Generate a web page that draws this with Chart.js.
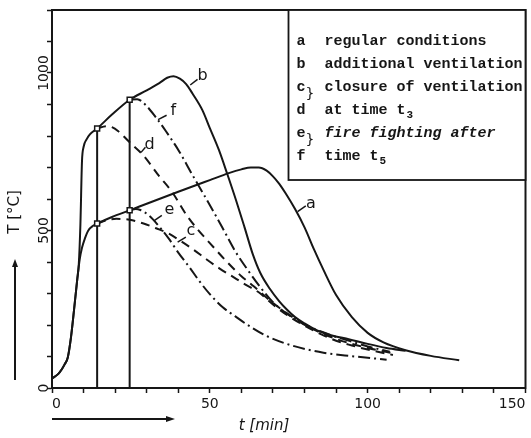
<!DOCTYPE html>
<html lang="en">
<head>
    <meta charset="UTF-8">
    <title>Fire temperature curves</title>
    <style>
        html, body { margin: 0; padding: 0; background: #fff; }
        #wrap { width: 531px; height: 438px; }
    </style>
</head>
<body>
    <div id="wrap"><canvas id="chart" width="531" height="438"></canvas></div>
    <script src="https://cdn.jsdelivr.net/npm/chart.js@4.4.1/dist/chart.umd.min.js"></script>
    <script>
        // t [min] and T [°C]
        const tA = [0, 2, 3, 4, 5, 6, 7, 8, 8.8, 9.5, 10.4, 11.5, 13, 14.3, 19, 24.6, 30, 40, 50, 56, 60, 63, 65.5, 68, 70, 72, 74, 77, 80, 83, 86, 90, 95, 100, 105, 112, 120, 129];
        const TA = [30, 45, 58, 75, 97, 160, 250, 345, 410, 445, 474, 500, 515, 522, 543, 564, 585, 623, 660, 682, 694, 700, 700, 690, 672, 648, 618, 568, 510, 440, 375, 295, 225, 175, 145, 120, 102, 88];

        const tB = [0, 2, 3, 4, 5, 6, 7, 8, 8.5, 9, 9.5, 10, 11, 12, 14.3, 19, 24.6, 30, 34, 36.5, 38.5, 40.5, 42.5, 44.5, 47.6, 50, 52.9, 55.5, 58.3, 61, 63.6, 66, 69, 72, 74.3, 77, 80, 84, 89, 94, 100, 106, 112];
        const TB = [30, 45, 58, 75, 97, 160, 250, 345, 395, 520, 720, 765, 790, 805, 824, 868, 915, 945, 968, 985, 990, 982, 965, 935, 883, 825, 755, 680, 596, 510, 425, 365, 315, 275, 250, 225, 205, 183, 166, 155, 140, 127, 118];

        const tC = [14.3, 17, 20.4, 24.6, 29, 33, 37, 41, 45, 49, 53, 57, 61, 65.6, 70, 75, 80, 85, 90, 95, 100, 108];
        const TC = [522, 532, 537, 534, 522, 507, 490, 465, 438, 408, 380, 355, 330, 303, 265, 228, 198, 172, 150, 135, 122, 105];

        const tD = [14.3, 17.2, 19, 21, 24.6, 28.8, 34, 38.2, 42.4, 46, 50, 55, 60, 64, 69, 74, 79, 85, 90, 95, 100, 108];
        const TD = [824, 831, 828, 815, 780, 740, 672, 620, 552, 505, 460, 405, 355, 322, 278, 240, 207, 176, 156, 140, 127, 110];

        const tE = [24.6, 26.5, 28, 31, 34, 37, 40, 43.5, 47, 50, 54, 58, 62, 68, 76, 86, 95, 106];
        const TE = [564, 568, 565, 545, 512, 474, 430, 384, 335, 298, 257, 228, 200, 165, 135, 112, 101, 90];

        const tF = [24.6, 27, 29.5, 33, 36.1, 40.3, 44.5, 48.2, 52, 55, 58, 62, 66, 70, 75, 80, 85, 90, 95, 100, 107];
        const TF = [915, 917, 900, 858, 815, 751, 676, 612, 545, 490, 435, 375, 320, 272, 232, 202, 180, 162, 147, 132, 115];

        // t3 and t5 and the points where the curves branch off
        const branchTimes = [14.3, 24.6];
        const branchTops = [824, 915];
        const markerT = [14.3, 14.3, 24.6, 24.6];
        const markerTemp = [522, 824, 564, 915];

        // curve letters: text position and short leader line (t, T)
        const curveNames = ['a', 'b', 'c', 'd', 'e', 'f'];
        const curveNameAt = [[82, 586], [47.7, 991], [44, 500], [30.9, 772], [37.2, 564], [38.4, 880]];
        const leaderFrom = [[77.8, 560], [43.8, 962], [39.8, 463], [28.2, 748], [32.5, 532], [33.6, 852]];
        const leaderTo = [[80.4, 578], [46.1, 980], [42.4, 479], [29.6, 764], [34.8, 548], [36.3, 866]];

        const legendKeys = ['a', 'b', 'c', 'd', 'e', 'f'];
        const legendText = ['regular conditions', 'additional ventilation', 'closure of ventilation', 'at time t', 'fire fighting after', 'time t'];
        const legendSub = ['', '', '', '3', '', '5'];

        const xTitle = 't [min]';
        const yTitle = 'T [°C]';

        const ink = '#161616';
        const pts = (xs, ys) => xs.map((x, i) => ({x: x, y: ys[i]}));

        const curve = (data, dash) => ({
            data: data,
            showLine: true,
            borderColor: ink,
            borderWidth: 2,
            borderDash: dash,
            pointRadius: 0,
            cubicInterpolationMode: 'monotone',
            fill: false
        });

        const paperPlugin = {
            id: 'paper',
            afterDraw(chart) {
                const {ctx, chartArea: area, scales: {x, y}} = chart;
                ctx.save();
                ctx.strokeStyle = ink;
                ctx.fillStyle = ink;

                // frame round the plot
                ctx.lineWidth = 2;
                ctx.strokeRect(area.left, area.top, area.right - area.left, area.bottom - area.top);

                // letters on the curves
                ctx.lineWidth = 1.5;
                ctx.font = '16px "DejaVu Sans"';
                ctx.textAlign = 'center';
                ctx.textBaseline = 'middle';
                curveNames.forEach((name, i) => {
                    ctx.beginPath();
                    ctx.moveTo(x.getPixelForValue(leaderFrom[i][0]), y.getPixelForValue(leaderFrom[i][1]));
                    ctx.lineTo(x.getPixelForValue(leaderTo[i][0]), y.getPixelForValue(leaderTo[i][1]));
                    ctx.stroke();
                    ctx.fillText(name, x.getPixelForValue(curveNameAt[i][0]), y.getPixelForValue(curveNameAt[i][1]));
                });

                // legend box
                const bx = area.right - 237, by = area.top, bh = 170;
                ctx.fillStyle = '#fff';
                ctx.fillRect(bx, by, area.right - bx, bh);
                ctx.fillStyle = ink;
                ctx.lineWidth = 1.8;
                ctx.strokeRect(bx, by, area.right - bx, bh);
                ctx.textAlign = 'left';
                legendKeys.forEach((key, i) => {
                    const ly = by + 31 + i * 23;
                    ctx.font = 'bold 15px "Liberation Mono"';
                    ctx.fillText(key, bx + 8, ly);
                    ctx.font = (i === 4 ? 'italic bold' : 'bold') + ' 15px "Liberation Mono"';
                    ctx.fillText(legendText[i], bx + 36, ly);
                    if (legendSub[i]) {
                        const w = ctx.measureText(legendText[i]).width;
                        ctx.font = 'bold 11px "Liberation Mono"';
                        ctx.fillText(legendSub[i], bx + 37 + w, ly + 5);
                    }
                    if (i === 2 || i === 4) {
                        ctx.font = '14px "DejaVu Sans"';
                        ctx.fillText('}', bx + 17, ly + 7);
                    }
                });

                // axis titles with their arrows
                ctx.font = '15px "DejaVu Sans"';
                ctx.textAlign = 'center';
                ctx.save();
                ctx.translate(15, area.top + 202);
                ctx.rotate(-Math.PI / 2);
                ctx.fillText(yTitle, 0, 0);
                ctx.restore();

                ctx.lineWidth = 2;
                ctx.beginPath();
                ctx.moveTo(15, area.bottom - 8);
                ctx.lineTo(15, area.bottom - 125);
                ctx.stroke();
                ctx.beginPath();
                ctx.moveTo(15, area.bottom - 129);
                ctx.lineTo(12, area.bottom - 121);
                ctx.lineTo(18, area.bottom - 121);
                ctx.closePath();
                ctx.fill();

                ctx.font = 'italic 15px "DejaVu Sans"';
                ctx.fillText(xTitle, area.left + 212, area.bottom + 38);
                const ay = area.bottom + 31;
                ctx.beginPath();
                ctx.moveTo(area.left, ay);
                ctx.lineTo(area.left + 118, ay);
                ctx.stroke();
                ctx.beginPath();
                ctx.moveTo(area.left + 123, ay);
                ctx.lineTo(area.left + 114, ay - 3);
                ctx.lineTo(area.left + 114, ay + 3);
                ctx.closePath();
                ctx.fill();

                ctx.restore();
            }
        };

        const tickFont = {family: '"DejaVu Sans"', size: 14};

        new Chart(document.getElementById('chart'), {
            type: 'scatter',
            data: {
                datasets: [
                    {
                        data: pts(markerT, markerTemp),
                        order: -1,
                        showLine: false,
                        pointStyle: 'rect',
                        pointRadius: 3.5,
                        pointBorderWidth: 1.5,
                        pointBackgroundColor: '#fff',
                        pointBorderColor: ink
                    },
                    curve([{x: branchTimes[0], y: 0}, {x: branchTimes[0], y: branchTops[0]}], []),
                    curve([{x: branchTimes[1], y: 0}, {x: branchTimes[1], y: branchTops[1]}], []),
                    curve(pts(tA, TA), []),
                    curve(pts(tB, TB), []),
                    curve(pts(tC, TC), [9, 6]),
                    curve(pts(tD, TD), [9, 6]),
                    curve(pts(tE, TE), [12, 4, 2, 4]),
                    curve(pts(tF, TF), [12, 4, 2, 4])
                ]
            },
            options: {
                responsive: false,
                animation: false,
                devicePixelRatio: 1,
                layout: {padding: {top: 10, right: 3, left: 0, bottom: 0}},
                plugins: {legend: {display: false}, tooltip: {enabled: false}},
                scales: {
                    x: {
                        type: 'linear',
                        min: 0,
                        max: 150,
                        ticks: {
                            stepSize: 10,
                            autoSkip: false,
                            maxRotation: 0,
                            align: 'inner',
                            padding: 3,
                            color: ink,
                            font: tickFont,
                            callback: v => v % 50 === 0 ? String(v) : ''
                        },
                        grid: {drawOnChartArea: false, tickLength: 5, tickWidth: 1.5, tickColor: ink},
                        border: {display: true, color: ink, width: 2},
                        afterFit(scale) { scale.height = 50; scale.paddingLeft = 0; scale.paddingRight = 0; }
                    },
                    y: {
                        type: 'linear',
                        min: 0,
                        max: 1200,
                        ticks: {
                            stepSize: 100,
                            autoSkip: false,
                            minRotation: 90,
                            maxRotation: 90,
                            crossAlign: 'center',
                            padding: -15,
                            color: ink,
                            font: tickFont,
                            callback: v => v % 500 === 0 ? String(v) : ''
                        },
                        grid: {drawOnChartArea: false, tickLength: 5, tickWidth: 1.5, tickColor: ink},
                        border: {display: true, color: ink, width: 2},
                        afterFit(scale) { scale.width = 52; scale.paddingTop = 0; scale.paddingBottom = 0; }
                    }
                }
            },
            plugins: [paperPlugin]
        });
    </script>
</body>
</html>
